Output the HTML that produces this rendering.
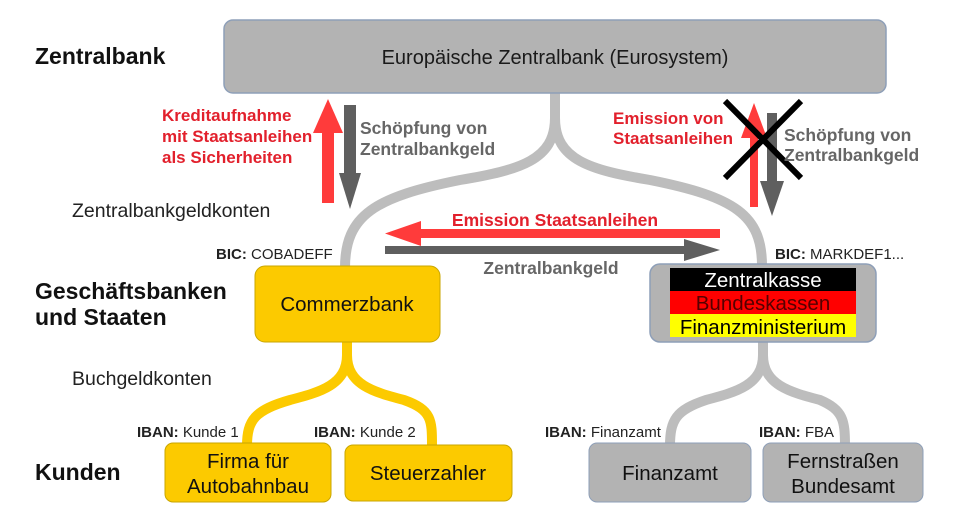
<!DOCTYPE html>
<html><head><meta charset="utf-8"><style>
html,body{margin:0;padding:0;background:#fff;}
svg{display:block;font-family:"Liberation Sans",sans-serif;}
</style></head><body>
<svg width="960" height="523" viewBox="0 0 960 523" xmlns="http://www.w3.org/2000/svg">
<g fill="none" stroke-width="10">
<path d="M555,93 L555,118 C555,160 520,170 460,180 C375,197 345,215 345,268" stroke="#bdbdbd"/>
<path d="M555,118 C555,160 590,170 650,180 C735,197 762,215 762,266" stroke="#bdbdbd"/>
<path d="M347,340 L347,355 C347,385 320,392 290,400 C255,410 247,420 247,446" stroke="#fcca00"/>
<path d="M347,355 C347,385 374,392 404,400 C432,410 432,420 432,446" stroke="#fcca00"/>
<path d="M763,340 L763,355 C763,385 736,392 706,400 C676,410 670,420 670,446" stroke="#bdbdbd"/>
<path d="M763,355 C763,385 790,392 820,400 C843,410 845,420 845,446" stroke="#bdbdbd"/>
</g>
<rect x="224" y="20" width="662" height="73" rx="9" fill="#b3b3b3" stroke="#8e9fb8" stroke-width="1.5"/>
<text x="555" y="64" font-size="20" text-anchor="middle" fill="#1a1a1a">Europäische Zentralbank (Eurosystem)</text>
<g font-weight="bold" font-size="23" fill="#111">
<text x="35" y="64">Zentralbank</text>
<text x="35" y="299">Geschäftsbanken</text>
<text x="35" y="325">und Staaten</text>
<text x="35" y="480">Kunden</text>
</g>
<text x="72" y="217" font-size="19.5" fill="#222">Zentralbankgeldkonten</text>
<text x="72" y="385" font-size="19.5" fill="#222">Buchgeldkonten</text>
<rect x="322" y="130" width="12" height="73" fill="#ff3b3b"/>
<polygon points="313,133 328,99 343,133" fill="#ff3b3b"/>
<rect x="344" y="105" width="12" height="72" fill="#5f5f5f"/>
<polygon points="339,173 350,209 361,173" fill="#5f5f5f"/>
<g font-weight="bold" font-size="17" fill="#e2202c">
<text x="162" y="121">Kreditaufnahme</text>
<text x="162" y="142">mit Staatsanleihen</text>
<text x="162" y="163">als Sicherheiten</text>
</g>
<g font-weight="bold" font-size="17.5" fill="#666">
<text x="360" y="134">Schöpfung von</text>
<text x="360" y="155">Zentralbankgeld</text>
</g>
<rect x="750" y="135" width="8" height="72" fill="#ff3b3b"/>
<polygon points="741,138 754,103 767,138" fill="#ff3b3b"/>
<rect x="767" y="113" width="10" height="70" fill="#5f5f5f"/>
<polygon points="760,181 772,216 784,181" fill="#5f5f5f"/>
<g stroke="#000" stroke-width="6"><line x1="725" y1="101" x2="801" y2="178"/><line x1="801" y1="101" x2="725" y2="178"/></g>
<g font-weight="bold" font-size="17" fill="#e2202c">
<text x="613" y="124">Emission von</text>
<text x="613" y="144">Staatsanleihen</text>
</g>
<g font-weight="bold" font-size="17.5" fill="#666">
<text x="784" y="141">Schöpfung von</text>
<text x="784" y="161">Zentralbankgeld</text>
</g>
<rect x="418" y="229" width="302" height="9" fill="#ff3b3b"/>
<polygon points="421,221 385,233.5 421,246" fill="#ff3b3b"/>
<text x="555" y="226" font-size="17.5" font-weight="bold" fill="#e2202c" text-anchor="middle">Emission Staatsanleihen</text>
<rect x="385" y="246" width="302" height="8" fill="#5f5f5f"/>
<polygon points="684,239 720,250 684,261" fill="#5f5f5f"/>
<text x="551" y="274" font-size="17.5" font-weight="bold" fill="#666" text-anchor="middle">Zentralbankgeld</text>
<text x="216" y="259" font-size="15" fill="#222"><tspan font-weight="bold">BIC:</tspan> COBADEFF</text>
<text x="775" y="259" font-size="15" fill="#222"><tspan font-weight="bold">BIC:</tspan> MARKDEF1...</text>
<rect x="255" y="266" width="185" height="76" rx="10" fill="#fcca00" stroke="#c9a600" stroke-width="1"/>
<text x="347" y="311" font-size="20.5" text-anchor="middle" fill="#111">Commerzbank</text>
<rect x="650" y="264" width="226" height="78" rx="10" fill="#b3b3b3" stroke="#8e9fb8" stroke-width="1.5"/>
<rect x="670" y="268" width="186" height="23" fill="#000"/>
<rect x="670" y="291" width="186" height="23" fill="#ff0000"/>
<rect x="670" y="314" width="186" height="23" fill="#ffff00"/>
<text x="763" y="287" font-size="20.5" text-anchor="middle" fill="#fff">Zentralkasse</text>
<text x="763" y="310" font-size="20.5" text-anchor="middle" fill="#550000">Bundeskassen</text>
<text x="763" y="334" font-size="20.5" text-anchor="middle" fill="#000">Finanzministerium</text>
<g font-size="15" fill="#222">
<text x="137" y="437"><tspan font-weight="bold">IBAN:</tspan> Kunde 1</text>
<text x="314" y="437"><tspan font-weight="bold">IBAN:</tspan> Kunde 2</text>
<text x="545" y="437"><tspan font-weight="bold">IBAN:</tspan> Finanzamt</text>
<text x="759" y="437"><tspan font-weight="bold">IBAN:</tspan> FBA</text>
</g>
<rect x="165" y="443" width="166" height="59" rx="8" fill="#fcca00" stroke="#c9a600"/>
<text x="248" y="468" font-size="20.5" text-anchor="middle" fill="#111">Firma für</text>
<text x="248" y="493" font-size="20.5" text-anchor="middle" fill="#111">Autobahnbau</text>
<rect x="345" y="445" width="167" height="56" rx="8" fill="#fcca00" stroke="#c9a600"/>
<text x="428" y="480" font-size="20.5" text-anchor="middle" fill="#111">Steuerzahler</text>
<rect x="589" y="443" width="162" height="59" rx="8" fill="#b3b3b3" stroke="#8e9fb8"/>
<text x="670" y="480" font-size="20.5" text-anchor="middle" fill="#111">Finanzamt</text>
<rect x="763" y="443" width="160" height="59" rx="8" fill="#b3b3b3" stroke="#8e9fb8"/>
<text x="843" y="468" font-size="20.5" text-anchor="middle" fill="#111">Fernstraßen</text>
<text x="843" y="493" font-size="20.5" text-anchor="middle" fill="#111">Bundesamt</text>
</svg>
</body></html>
